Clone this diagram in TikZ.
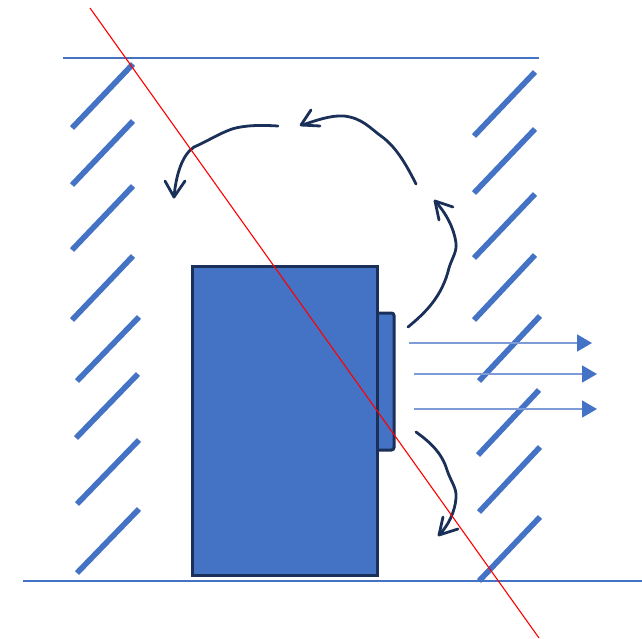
\documentclass[tikz,border=0pt]{standalone}
\usetikzlibrary{arrows.meta}
\definecolor{blu}{HTML}{4472C4}
\definecolor{nav}{HTML}{1B3058}
\definecolor{lblu}{HTML}{7D9BD6}
\tikzset{
 hatchline/.style={draw=blu,line width=5.6pt},
 floorline/.style={draw=blu,line width=1.1pt},
 device/.style={draw=nav,fill=blu,line width=3pt},
 flow/.style={draw=nav,line width=2.8pt,line cap=round,line join=round},
 jet/.style={draw=lblu,line width=1.8pt,-{Triangle[length=15pt,width=17pt,fill=blu,color=blu]}},
 cut/.style={draw=red,line width=1.1pt}
}
\begin{document}
\begin{tikzpicture}[x=1pt,y=-1pt]
\useasboundingbox (0,0) rectangle (642,638);
\foreach \a/\b/\c/\d in {72/128/133/64,72/185/133/121,72/250/133/186,72/320/133/256,77/381/139/317,76/438/138/374,77/504/139/440,77/573/139/509,474/136/535/72,474/193/535/129,474/258/535/194,474/320/535/255,479/381/540/316,478/455/539/390,479/512/540/447,479/581/540/517}
  \draw[hatchline] (\a,\b) -- (\c,\d);
\draw[floorline] (63,58) -- (539,58);
\draw[floorline] (23,581) -- (642,581);
\draw[device,rounded corners=2.5pt] (370,313) -- (394,313) -- (394,450) -- (370,450);
\draw[device] (192,266) rectangle (377,575);
\coordinate (j1) at (409,343); \coordinate (j1e) at (592,343);
\coordinate (j2) at (414,374); \coordinate (j2e) at (597,374);
\coordinate (j3) at (414,409); \coordinate (j3e) at (597,409);
\draw[jet] (j1) -- (j1e);
\draw[jet] (j2) -- (j2e);
\draw[jet] (j3) -- (j3e);
% curved flow arrows
\draw[flow] (416,184) .. controls (405,162) and (395,146) .. (381,136)
  .. controls (370,128) and (362,118) .. (344,116)
  .. controls (330,115) and (315,121) .. (302,125);
\draw[flow] (311,110) -- (301,125) -- (320,126);
\draw[flow] (278,126) .. controls (262,125) and (245,125) .. (232,129)
  .. controls (218,134) and (206,142) .. (194,147)
  .. controls (182,155) and (176,175) .. (174,197);
\draw[flow] (165,181) -- (174,197) -- (185,181);
\draw[flow] (408,327) .. controls (425,313) and (442,297) .. (449,268)
  .. controls (452,258) and (457,252) .. (456,243)
  .. controls (454,228) and (446,213) .. (435,201);
\draw[flow] (439,220) -- (435,201) -- (453,207);
\draw[flow] (416,432) .. controls (430,442) and (442,453) .. (447,470)
  .. controls (451,482) and (457,488) .. (456,498)
  .. controls (455,512) and (448,526) .. (439,535);
\draw[flow] (443,517) -- (439,535) -- (458,529);
\draw[cut] (90,8) -- (539,638);
\end{tikzpicture}
\end{document}
